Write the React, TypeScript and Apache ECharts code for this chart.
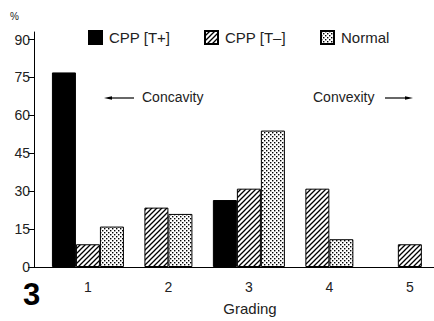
import React, { useEffect, useRef } from "react";
import * as echarts from "echarts";

// ---- data ----
const categories = [1, 2, 3, 4, 5];
const seriesNames = ["CPP [T+]", "CPP [T–]", "Normal"];
const cppTPlus: (number | null)[] = [77, null, 26.5, null, null];
const cppTMinus: (number | null)[] = [9, 23.5, 31, 31, 9];
const normal: (number | null)[] = [16, 21, 54, 11, null];
const yTicks = [0, 15, 30, 45, 60, 75, 90];

const FONT = "'Liberation Sans', Arial, Helvetica, sans-serif";
const TXT = "#222";

function makeHatch(): HTMLCanvasElement {
  const c = document.createElement("canvas");
  c.width = 5;
  c.height = 5;
  const g = c.getContext("2d")!;
  g.fillStyle = "#fff";
  g.fillRect(0, 0, 5, 5);
  g.strokeStyle = "#000";
  g.lineWidth = 1.3;
  g.beginPath();
  g.moveTo(-1, 6);
  g.lineTo(6, -1);
  g.moveTo(-1, 1);
  g.lineTo(1, -1);
  g.moveTo(4, 6);
  g.lineTo(6, 4);
  g.stroke();
  return c;
}

function makeDots(): HTMLCanvasElement {
  const c = document.createElement("canvas");
  c.width = 4;
  c.height = 4;
  const g = c.getContext("2d")!;
  g.fillStyle = "#fff";
  g.fillRect(0, 0, 4, 4);
  g.fillStyle = "#000";
  g.fillRect(0, 0, 1.4, 1.4);
  g.fillRect(2, 2, 1.4, 1.4);
  return c;
}

export default function App() {
  const ref = useRef<HTMLDivElement>(null);
  useEffect(() => {
    if (!ref.current) return;
    const chart = echarts.init(ref.current, undefined, { renderer: "svg" });

    const xMin = 0.33;
    const xMax = 5.3;
    const gridLeft = 34;
    const gridWidth = 400;
    const barWidth = 24;
    const pxPerUnit = gridWidth / (xMax - xMin);
    const barUnit = barWidth / pxPerUnit;

    const all = [cppTPlus, cppTMinus, normal];
    // center each group on the bars that exist in it
    const seriesData = all.map(() => [] as [number, number][]);
    categories.forEach((cat, ci) => {
      const present = all
        .map((arr, si) => (arr[ci] == null ? -1 : si))
        .filter((s) => s >= 0);
      const n = present.length;
      present.forEach((si, k) => {
        const x = cat + (k - (n - 1) / 2) * barUnit;
        seriesData[si].push([x, all[si][ci] as number]);
      });
    });

    const fills: any[] = [
      "#000",
      { image: makeHatch(), repeat: "repeat" },
      { image: makeDots(), repeat: "repeat" },
    ];

    const legendBase = {
      top: 30,
      padding: 0,
      itemWidth: 13,
      itemHeight: 13,
      icon: "rect",
      selectedMode: false,
      textStyle: { fontFamily: FONT, fontSize: 15, color: TXT, padding: [0, 0, 0, 2] },
    };

    chart.setOption({
      animation: false,
      grid: { left: gridLeft, width: gridWidth, top: 32, bottom: 54 },
      legend: [
        { ...legendBase, left: 88, data: [seriesNames[0]] },
        { ...legendBase, left: 204, data: [seriesNames[1]] },
        { ...legendBase, left: 320, data: [seriesNames[2]] },
      ],
      xAxis: {
        type: "value",
        min: xMin,
        max: xMax,
        axisLine: { show: true, onZero: false, lineStyle: { color: "#000", width: 1 } },
        axisTick: { show: false },
        splitLine: { show: false },
        axisLabel: {
          customValues: categories,
          fontFamily: FONT,
          fontSize: 14,
          color: TXT,
          margin: 13,
        },
        name: "Grading",
        nameLocation: "middle",
        nameGap: 34,
        nameTextStyle: { fontFamily: FONT, fontSize: 15, color: TXT, padding: [0, 0, 0, 32] },
      },
      yAxis: {
        type: "value",
        min: 0,
        max: 93,
        axisLine: { show: true, lineStyle: { color: "#000", width: 1 } },
        axisTick: { show: true, length: 6, customValues: yTicks, lineStyle: { color: "#000" } },
        splitLine: { show: false },
        axisLabel: {
          customValues: yTicks,
          fontFamily: FONT,
          fontSize: 14,
          color: TXT,
          margin: 4,
        },
      },
      series: seriesNames.map((name, i) => ({
        name,
        type: "bar",
        data: seriesData[i],
        barWidth,
        barGap: "-100%",
        itemStyle: { color: fills[i], borderColor: "#000", borderWidth: 1 },
      })),
      graphic: [
        {
          type: "text",
          left: 10,
          top: 11,
          style: { text: "%", fontFamily: FONT, fontSize: 10, fill: TXT },
        },
        {
          type: "text",
          left: 23,
          top: 279,
          style: { text: "3", fontFamily: FONT, fontSize: 31, fontWeight: "bold", fill: "#000" },
        },
        // ← Concavity
        { type: "line", shape: { x1: 110, y1: 98, x2: 134, y2: 98 }, style: { stroke: "#000", lineWidth: 1.2 } },
        { type: "polygon", shape: { points: [[104, 98], [112, 96.3], [112, 99.7]] }, style: { fill: "#000" } },
        {
          type: "text",
          left: 142,
          top: 90,
          style: { text: "Concavity", fontFamily: FONT, fontSize: 14, fill: TXT },
        },
        // Convexity →
        {
          type: "text",
          left: 313,
          top: 90,
          style: { text: "Convexity", fontFamily: FONT, fontSize: 14, fill: TXT },
        },
        { type: "line", shape: { x1: 385, y1: 98, x2: 407, y2: 98 }, style: { stroke: "#000", lineWidth: 1.2 } },
        { type: "polygon", shape: { points: [[413, 98], [405, 96.3], [405, 99.7]] }, style: { fill: "#000" } },
      ],
    });
    return () => chart.dispose();
  }, []);
  return <div ref={ref} style={{ width: 434, height: 321, position: "absolute", left: 0, top: 0 }} />;
}
